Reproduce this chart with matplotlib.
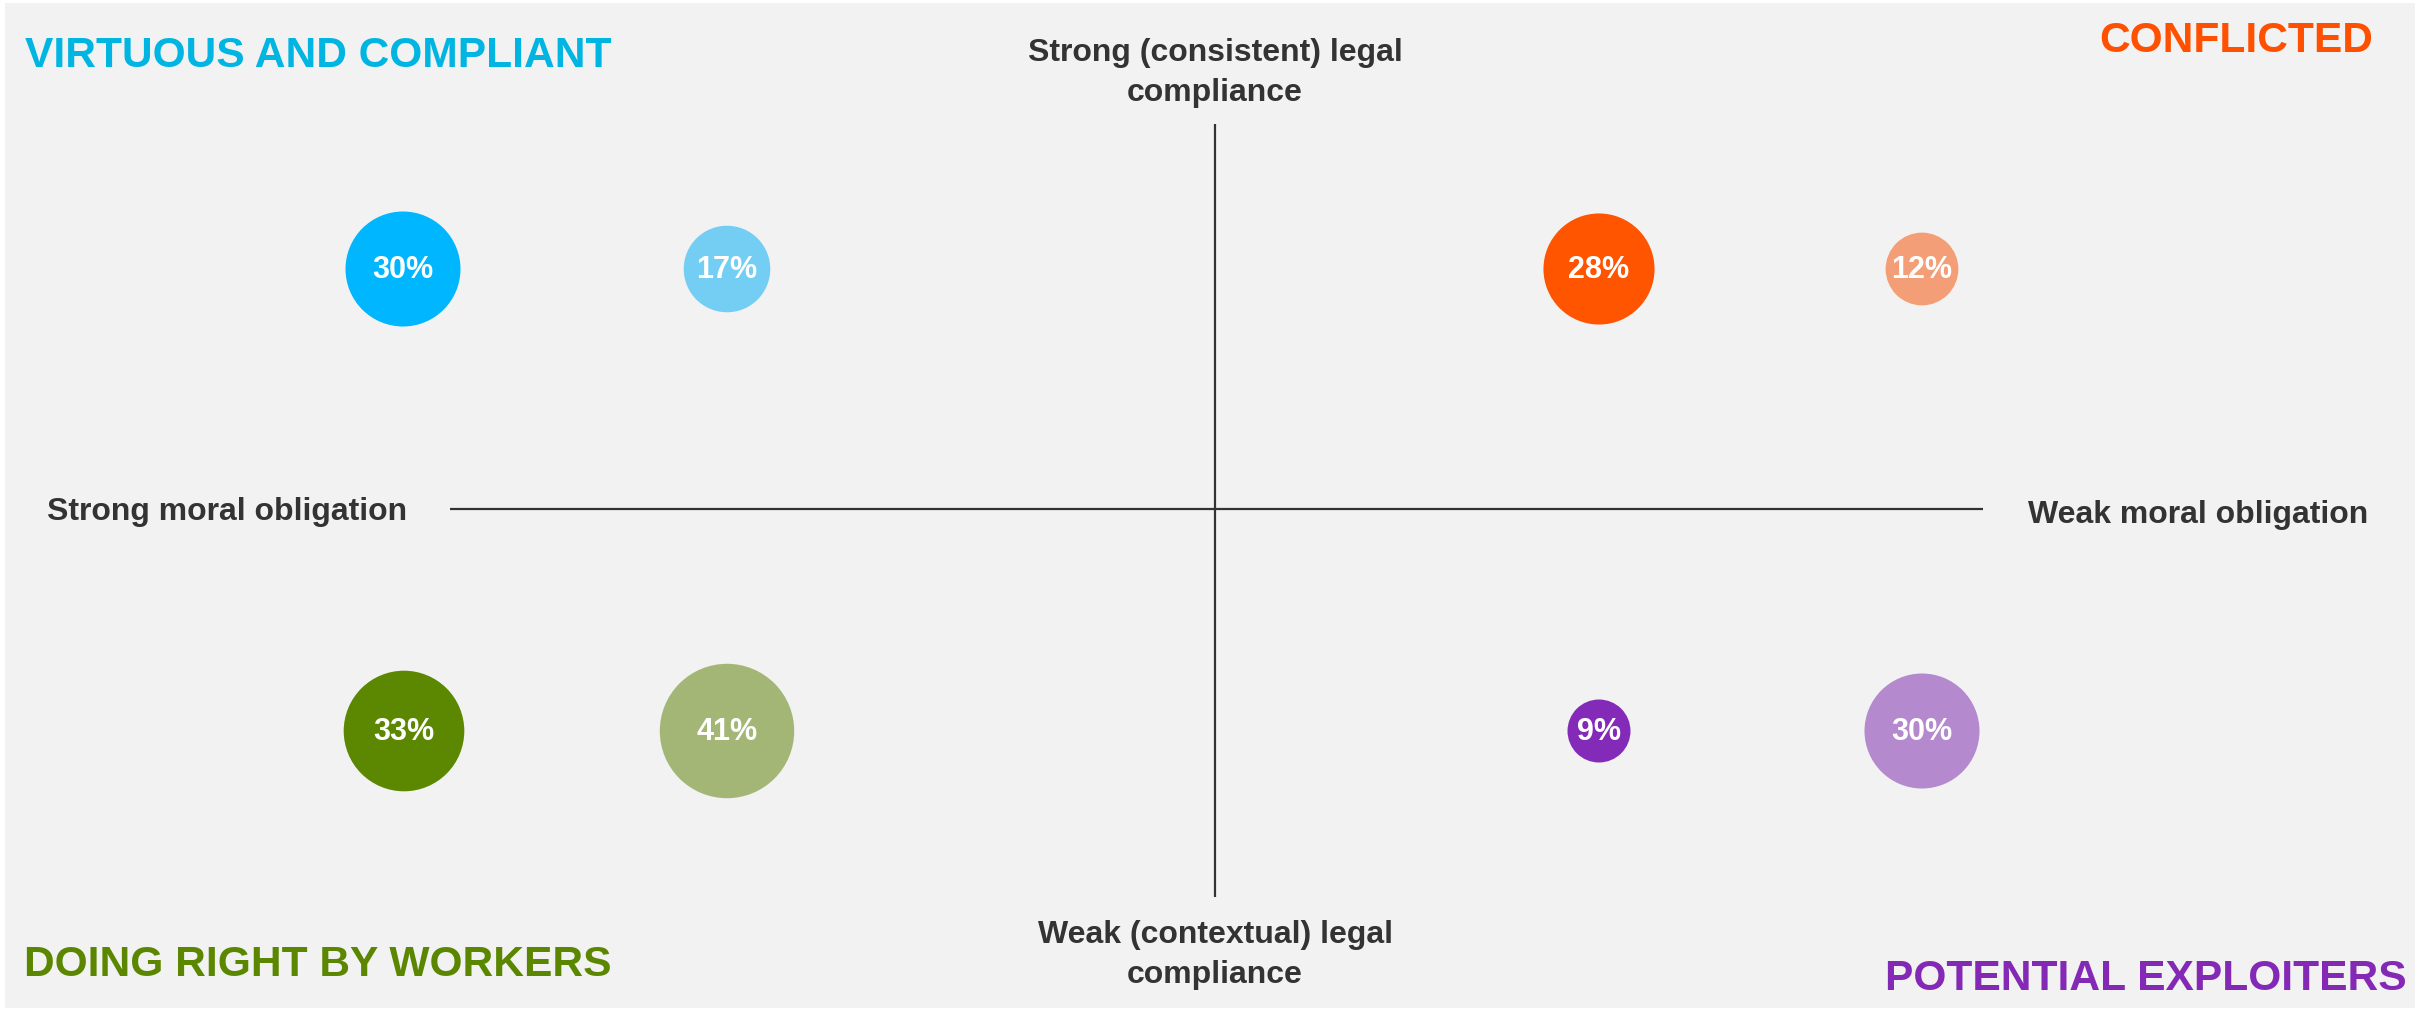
import matplotlib
matplotlib.use("Agg")
import matplotlib.pyplot as plt

plt.rcParams['font.family'] = ['Liberation Sans', 'DejaVu Sans']

# bubble data (share of respondents, %)
labels = ["30%", "17%", "28%", "12%", "33%", "41%", "9%", "30%"]
values = [30, 17, 28, 12, 33, 41, 9, 30]
# position on the moral (x) / legal (y) map, centre of axes = (0, 0)
xpos = [-8.12, -4.88, 3.84, 7.07, -8.11, -4.88, 3.84, 7.07]
ypos = [2.40, 2.40, 2.40, 2.40, -2.22, -2.22, -2.22, -2.22]
colors = ["#00B7FF", "#74CEF3", "#FF5400", "#F39E76",
          "#5B8800", "#A3B676", "#832AB8", "#B489CE"]

quadrants = ["VIRTUOUS AND COMPLIANT", "CONFLICTED", "DOING RIGHT BY WORKERS", "POTENTIAL EXPLOITERS"]
quad_colors = ["#00B5E2", "#FF5000", "#5B8700", "#8429B6"]

axis_top = "Strong (consistent) legal\ncompliance"
axis_bottom = "Weak (contextual) legal\ncompliance"
axis_left = "Strong moral obligation"
axis_right = "Weak moral obligation"

W, H = 2433, 1009
fig = plt.figure(figsize=(W / 100, H / 100), dpi=100)
fig.patch.set_facecolor("white")
ax = fig.add_axes([5 / W, 1 - 1008 / H, 2410 / W, 1005 / H])
ax.set_facecolor("#F2F2F2")
ax.set_xlim(-12.10, 12.00)
ax.set_ylim(-4.99, 5.06)
for s in ax.spines.values():
    s.set_visible(False)
ax.set_xticks([])
ax.set_yticks([])

# axes cross
line_col = "#333333"
ax.plot([0, 0], [-3.88, 3.85], color=line_col, lw=1.6, solid_capstyle="butt")
ax.plot([-7.65, 7.68], [0, 0], color=line_col, lw=1.6, solid_capstyle="butt")

# bubbles, area proportional to value
ax.scatter(xpos, ypos, s=[228.5 * v for v in values], c=colors, linewidths=0, zorder=3)
for x, y, t in zip(xpos, ypos, labels):
    ax.text(x, y - 0.01, t, color="white", fontsize=22, fontweight="bold",
            ha="center", va="center", zorder=4)

# axis labels
lab_kw = dict(color="#333333", fontsize=23, fontweight="bold", linespacing=1.4)
ax.text(0.0, 4.36, axis_top, ha="center", va="center", **lab_kw)
ax.text(0.0, -4.46, axis_bottom, ha="center", va="center", **lab_kw)
ax.text(-11.68, -0.03, axis_left, ha="left", va="center", **lab_kw)
ax.text(11.53, -0.06, axis_right, ha="right", va="center", **lab_kw)

# quadrant titles
q_kw = dict(fontsize=30.6, fontweight="bold")
ax.text(-11.90, 4.53, quadrants[0], color=quad_colors[0], ha="left", va="center", **q_kw)
ax.text(11.58, 4.68, quadrants[1], color=quad_colors[1], ha="right", va="center", **q_kw)
ax.text(-11.91, -4.56, quadrants[2], color=quad_colors[2], ha="left", va="center", **q_kw)
ax.text(11.92, -4.70, quadrants[3], color=quad_colors[3], ha="right", va="center", **q_kw)

fig.savefig("out.png", dpi=100)
